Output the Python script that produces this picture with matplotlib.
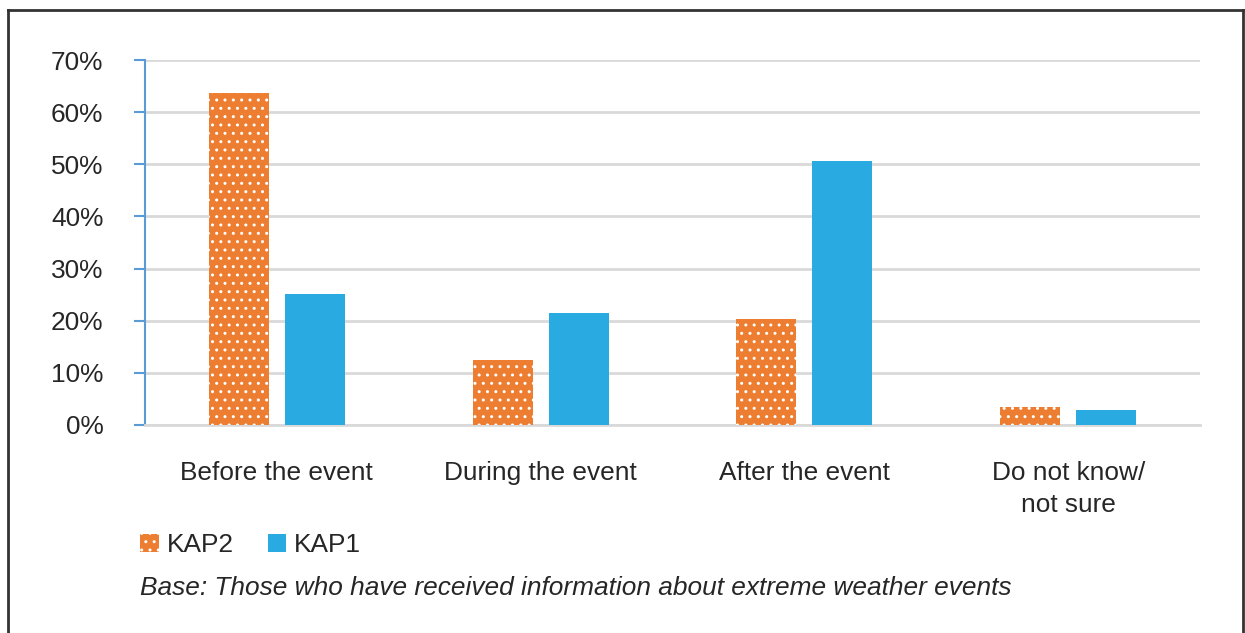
import matplotlib.pyplot as plt
import numpy as np

plt.rcParams['font.family'] = ['Liberation Sans', 'DejaVu Sans']

categories = ['Before the event', 'During the event', 'After the event', 'Do not know/\nnot sure']
kap2 = [63.6, 12.4, 20.4, 3.5]
kap1 = [25.1, 21.5, 50.6, 2.9]
yticks = [0, 10, 20, 30, 40, 50, 60, 70]
note = 'Base: Those who have received information about extreme weather events'

orange = '#ED7D31'
blue = '#29ABE2'
txt = '#262626'
fs = 18.9

plt.rcParams['hatch.color'] = 'white'
plt.rcParams['hatch.linewidth'] = 1.0

fig = plt.figure(figsize=(12.45, 6.33), dpi=100)
ax = fig.add_axes([145 / 1245, 1 - 425 / 633, (1200 - 145) / 1245, (425 - 60) / 633])

x = np.arange(len(categories))
w = 0.228
off = 0.144
ax.bar(x - off, kap2, w, color=orange, hatch='..', edgecolor='white', linewidth=0, label='KAP2', zorder=3)
ax.bar(x + off, kap1, w, color=blue, linewidth=0, label='KAP1', zorder=3)

ax.set_xlim(-0.5, len(categories) - 0.5)
ax.set_ylim(0, 70)
ax.set_yticks(yticks)
ax.set_yticklabels([f'{t}%' for t in yticks], fontsize=fs, color=txt)
ax.set_xticks(x)
ax.set_xticklabels(categories, fontsize=fs, color=txt, linespacing=1.4)
ax.tick_params(axis='x', length=0, pad=26)
ax.tick_params(axis='y', length=8, width=1.5, color='#5B9BD5', pad=22)
ax.yaxis.grid(True, color='#D9D9D9', linewidth=2, zorder=0)
ax.set_axisbelow(True)
for s in ['top', 'right']:
    ax.spines[s].set_visible(False)
ax.spines['left'].set_color('#5B9BD5')
ax.spines['left'].set_linewidth(1.5)
ax.spines['bottom'].set_color('#D9D9D9')
ax.spines['bottom'].set_linewidth(2)

leg = fig.legend(loc='center left', bbox_to_anchor=(122 / 1245, 1 - 545 / 633), ncol=2, frameon=False,
                 fontsize=fs, handlelength=0.7, handleheight=0.7, handletextpad=0.3, columnspacing=1.3,
                 borderpad=0.2)
for t in leg.get_texts():
    t.set_color(txt)

fig.text(140 / 1245, 1 - 588 / 633, note, fontsize=fs, style='italic', color=txt, va='center')

# frame around the figure
fig.add_artist(plt.Line2D([8 / 1245, 8 / 1245], [0, 1 - 10 / 633], color='#333333', lw=2, transform=fig.transFigure))
fig.add_artist(plt.Line2D([8 / 1245, 1243 / 1245], [1 - 10 / 633, 1 - 10 / 633], color='#333333', lw=2, transform=fig.transFigure))
fig.add_artist(plt.Line2D([1243 / 1245, 1243 / 1245], [0, 1 - 10 / 633], color='#333333', lw=2, transform=fig.transFigure))

fig.savefig('out.png', dpi=100)
